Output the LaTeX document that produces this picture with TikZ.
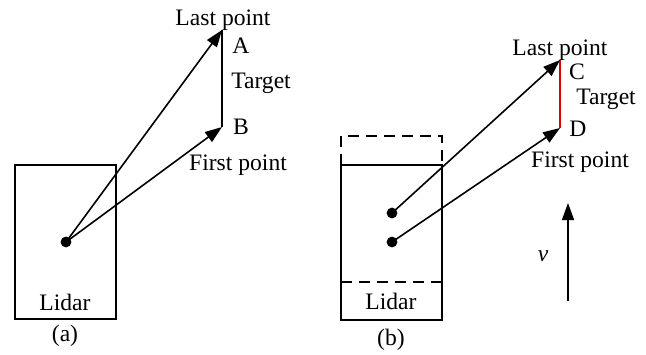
\documentclass[tikz,border=0pt]{standalone}
\usepackage{fontspec}
\setmainfont{Liberation Serif}
\usetikzlibrary{arrows.meta}
\begin{document}
\begin{tikzpicture}[x=0.5pt,y=-0.5pt,
  line width=0.8pt,
  lbl/.style={font=\fontsize{11.8}{13}\selectfont, inner sep=0pt},
  dotn/.style={circle, fill, inner sep=0pt, minimum size=5.4pt},
  ray/.style={-{Triangle[length=8.5pt,width=6pt]}, shorten >=0pt},
  dsh/.style={dash pattern=on 5.5pt off 3.5pt}]
\useasboundingbox (0,0) rectangle (646,354);
% ---------- (a) ----------
\draw (15,165) rectangle (116,319);
\node[dotn] (la) at (66,242) {};
\coordinate (A) at (222,30);
\coordinate (B) at (222,127);
\draw (A) -- (B);
\draw[ray] (la.center) -- (A);
\draw[ray] (la.center) -- (B);
\node[lbl] (lastA) at (223,20) {Last point};
\node[lbl] (labA) at (241,46) {A};
\node[lbl] (tgtA) at (261,83) {Target};
\node[lbl] (labB) at (241,127) {B};
\node[lbl] (firstA) at (238,165) {First point};
\node[lbl] (lidA) at (65,302) {Lidar};
\node[lbl] (capA) at (65,336) {(a)};
% ---------- (b) ----------
\draw (341,165) rectangle (442,320);
\draw[dsh] (341,165) -- (341,136) -- (442,136) -- (442,165);
\draw[dsh] (341,282) -- (442,282);
\node[dotn] (lb1) at (392,213) {};
\node[dotn] (lb2) at (392,242) {};
\coordinate (C) at (560,60);
\coordinate (D) at (560,128);
\draw[red!85!black] (C) -- (D);
\draw[ray] (lb1.center) -- (C);
\draw[ray] (lb2.center) -- (D);
\node[lbl] (lastB) at (560,50) {Last point};
\node[lbl] (labC) at (577,72) {C};
\node[lbl] (tgtB) at (606,99) {Target};
\node[lbl] (labD) at (578,129) {D};
\node[lbl] (firstB) at (580,162) {First point};
\coordinate (v1) at (568,301);
\coordinate (v2) at (568,203);
\draw[ray] (v1) -- (v2);
\node[lbl] (vlab) at (543,256) {\itshape v};
\node[lbl] (lidB) at (391,301) {Lidar};
\node[lbl] (capB) at (391,340) {(b)};
\end{tikzpicture}
\end{document}
